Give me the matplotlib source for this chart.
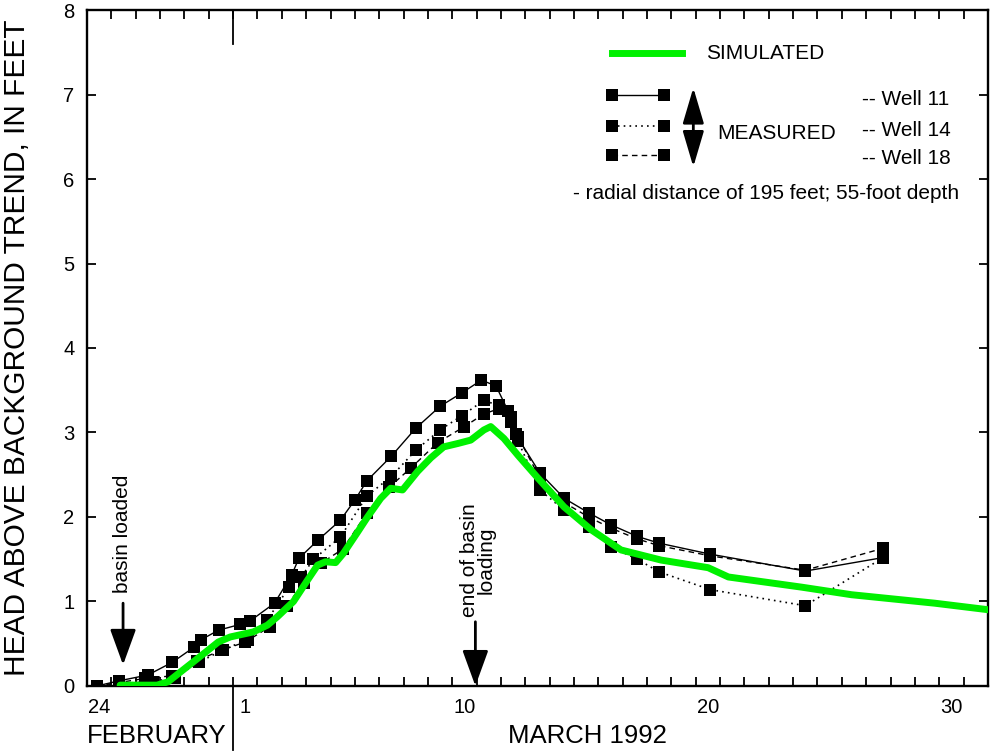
import matplotlib
matplotlib.use("Agg")
import matplotlib.pyplot as plt
from matplotlib.patches import FancyArrowPatch

plt.rcParams["font.family"] = ["Liberation Sans", "DejaVu Sans"]

# days since 24 February 1992 (day 6 = 1 March)
W11_DAYS = [0.4, 1.3, 2.5, 3.5, 4.4, 4.7, 5.4, 6.3, 6.7, 7.7, 8.4, 8.7, 9.5, 10.4, 11.0, 11.5,
            12.5, 13.5, 14.5, 15.4, 16.2, 16.8, 17.3, 17.6, 18.6, 19.6, 20.6, 21.5, 22.6, 23.5,
            25.6, 29.5, 32.7]
W11_HEAD = [0.00, 0.06, 0.13, 0.28, 0.46, 0.55, 0.66, 0.73, 0.77, 0.98, 1.31, 1.51, 1.73, 1.96, 2.20, 2.43,
            2.72, 3.05, 3.31, 3.47, 3.62, 3.55, 3.25, 2.98, 2.52, 2.22, 2.05, 1.91, 1.77, 1.69,
            1.56, 1.36, 1.52]

W14_DAYS = [0.4, 1.3, 2.7, 3.6, 4.6, 5.6, 6.6, 7.4, 8.3, 8.8, 9.3, 10.4, 11.5, 12.5, 13.5,
            14.5, 15.4, 16.3, 16.9, 17.4, 17.7, 18.6, 19.6, 20.6, 21.5, 22.6, 23.5, 25.6, 29.5, 32.7]
W14_HEAD = [0.00, 0.03, 0.05, 0.10, 0.28, 0.43, 0.55, 0.78, 1.17, 1.29, 1.50, 1.76, 2.25, 2.48, 2.79,
            3.03, 3.20, 3.38, 3.32, 3.12, 2.90, 2.32, 2.08, 1.88, 1.65, 1.50, 1.35, 1.14, 0.95, 1.52]

W18_DAYS = [0.4, 1.3, 2.4, 3.5, 4.5, 5.5, 6.5, 7.5, 8.2, 8.9, 9.6, 10.5, 11.5, 12.4, 13.3,
            14.4, 15.5, 16.3, 16.9, 17.4, 17.7, 18.6, 19.6, 20.6, 21.5, 22.6, 23.5, 25.6, 29.5, 32.7]
W18_HEAD = [0.00, 0.04, 0.09, 0.12, 0.30, 0.42, 0.52, 0.70, 0.95, 1.22, 1.45, 1.62, 2.05, 2.35, 2.58,
            2.88, 3.07, 3.22, 3.28, 3.18, 2.95, 2.46, 2.17, 2.00, 1.87, 1.74, 1.66, 1.54, 1.37, 1.63]

SIM_DAYS = [1.36, 2.88, 3.33, 4.12, 4.65, 5.39, 5.88, 6.83, 7.41, 7.82, 8.48, 9.05, 9.47, 9.79,
            10.21, 10.53, 11.11, 11.52, 12.06, 12.47, 12.96, 13.58, 14.12, 14.65, 15.23, 15.76,
            16.30, 16.58, 17.12, 17.70, 18.52, 19.59, 20.70, 21.93, 23.58, 25.51, 26.34, 29.34,
            31.40, 34.81, 37.08]
SIM_HEAD = [0.01, 0.01, 0.05, 0.23, 0.35, 0.52, 0.58, 0.64, 0.72, 0.82, 1.00, 1.25, 1.43, 1.47,
            1.46, 1.57, 1.82, 2.00, 2.22, 2.34, 2.32, 2.54, 2.70, 2.83, 2.87, 2.91,
            3.03, 3.07, 2.93, 2.73, 2.46, 2.12, 1.85, 1.61, 1.49, 1.40, 1.29, 1.17,
            1.08, 0.98, 0.90]

TICK_DAYS = [0, 6, 15, 25, 35]
TICK_LABELS = ["24", "1", "10", "20", "30"]
MONTH_LABELS = ["FEBRUARY", "MARCH 1992"]
WELL_LABELS = ["-- Well 11", "-- Well 14", "-- Well 18"]

GREEN = "#00f000"
FS = 15
MS = 9

fig = plt.figure(figsize=(9.9, 7.53), dpi=100)
ax = fig.add_axes([0.0879, 0.089, 0.910, 0.8977])

styles = [("-", 1.0), ((0, (1, 2.5)), 1.2), ((0, (4, 3)), 1.0)]
series = [(W11_DAYS, W11_HEAD), (W14_DAYS, W14_HEAD), (W18_DAYS, W18_HEAD)]
for (days, head), (ls, lw) in zip(series, styles):
    ax.plot(days, head, color="black", linestyle=ls, linewidth=lw,
            marker="s", markersize=MS, markeredgewidth=0, zorder=3)
ax.plot(SIM_DAYS, SIM_HEAD, color=GREEN, linewidth=5, solid_capstyle="round",
        solid_joinstyle="round", zorder=4)

ax.set_xlim(0, 37)
ax.set_ylim(0, 8)
ax.set_xticks([d + 0.5 for d in TICK_DAYS])
ax.set_xticklabels(TICK_LABELS)
ax.set_xticks(range(1, 37), minor=True)
ax.tick_params(axis="x", which="major", length=0, labelsize=14.5, pad=9)
ax.tick_params(axis="x", which="minor", direction="in", length=6.5, width=1.3,
               top=True, bottom=True)
ax.set_yticks(range(0, 9))
ax.tick_params(axis="y", direction="in", length=6.5, width=1.3, left=True, right=True,
               labelsize=14.5, pad=9)
for sp in ax.spines.values():
    sp.set_linewidth(1.7)

ax.set_ylabel("HEAD ABOVE BACKGROUND TREND, IN FEET", fontsize=21.5)
ax.yaxis.set_label_coords(-0.062, 0.5)

# month separator at 1 March
ax.plot([6, 6], [-0.095, 0.0], transform=ax.get_xaxis_transform(), color="black",
        linewidth=1.3, clip_on=False)
ax.plot([6, 6], [0.95, 1.0], transform=ax.get_xaxis_transform(), color="black",
        linewidth=1.3, clip_on=False)
ax.text(0.0, -0.074, MONTH_LABELS[0], transform=ax.transAxes, fontsize=18.5,
        ha="left", va="center")
ax.text(0.467, -0.074, MONTH_LABELS[1], transform=ax.transAxes, fontsize=18.5,
        ha="left", va="center")


def arrow(p0, p1, style, transform):
    ax.add_patch(FancyArrowPatch(p0, p1, arrowstyle=style, mutation_scale=10,
                                 color="black", linewidth=2, shrinkA=0, shrinkB=0,
                                 transform=transform, clip_on=False, zorder=5))


head = "-|>,head_length=2.2,head_width=0.8"
arrow((1.48, 0.98), (1.48, 0.25), head, ax.transData)
ax.text(1.45, 1.80, "basin loaded", rotation=90, ha="center", va="center", fontsize=FS)
arrow((15.95, 0.76), (15.95, 0.0), head, ax.transData)
ax.text(16.05, 1.49, "end of basin\nloading", rotation=90, ha="center", va="center",
        fontsize=FS, multialignment="center", linespacing=0.85)

# legend block
ax.plot([0.583, 0.660], [0.936, 0.936], transform=ax.transAxes, color=GREEN,
        linewidth=5, clip_on=False)
ax.text(0.687, 0.936, "SIMULATED", transform=ax.transAxes, fontsize=FS, va="center")
for y, (ls, lw), lab, ly in zip([0.874, 0.828, 0.786], styles, WELL_LABELS,
                                [0.867, 0.822, 0.780]):
    ax.plot([0.583, 0.641], [y, y], transform=ax.transAxes, color="black", linestyle=ls,
            linewidth=lw, marker="s", markersize=8, markeredgewidth=0, clip_on=False)
    ax.text(0.860, ly, lab, transform=ax.transAxes, fontsize=FS, va="center")
arrow((0.673, 0.885), (0.673, 0.768), "<|-|>,head_length=2.2,head_width=0.65",
      ax.transAxes)
ax.text(0.699, 0.818, "MEASURED", transform=ax.transAxes, fontsize=FS, va="center")
ax.text(0.539, 0.729, "- radial distance of 195 feet; 55-foot depth",
        transform=ax.transAxes, fontsize=FS, va="center")

fig.savefig("out.png", dpi=100)
